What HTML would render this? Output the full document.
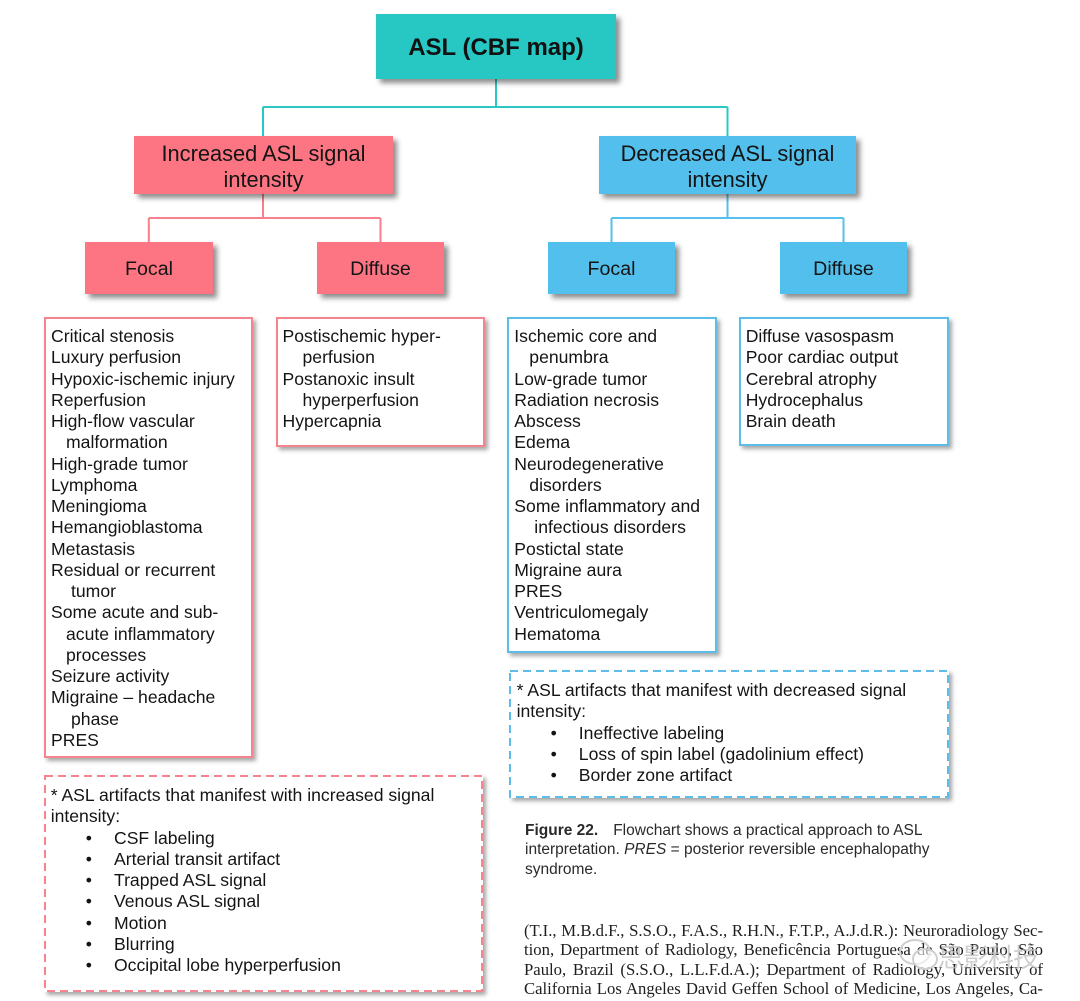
<!DOCTYPE html>
<html>
<head>
<meta charset="utf-8">
<style>
  html, body { margin:0; padding:0; background:#fff; }
  #page { position:relative; width:1080px; height:1001px; overflow:hidden; background:#fff;
    font-family:"Liberation Sans", Arial, sans-serif; color:#141414; }
  .abs { position:absolute; }
  .box { position:absolute; display:flex; align-items:center; justify-content:center; text-align:center;
    box-shadow: 4px 4px 5px rgba(0,0,0,0.45); box-sizing:border-box; }
  .teal { background:#27c7c3; }
  .pink { background:#fd7582; }
  .blue { background:#53bfec; }
  .list { position:absolute; box-sizing:border-box; background:#fff; box-shadow:3px 3px 4px rgba(0,0,0,0.35); }
  .lp { border:2px solid #f7838f; }
  .lb { border:2px solid #5cbde9; }
  .txt { position:absolute; font-size:17.6px; line-height:21.25px; white-space:nowrap; color:#141414; }
  .txt div { height:21.25px; }
  .i1 { padding-left:15px; }
  .i2 { padding-left:20px; }
  .shadowbox { position:absolute; background:#fff; box-shadow:3px 3px 4px rgba(0,0,0,0.35); }
  .bul { position:relative; }
  .bul span.b { position:absolute; }
  .cap { position:absolute; left:525px; font-size:15.5px; line-height:19.4px; color:#2a2a2a; white-space:nowrap; }
  .para { position:absolute; left:524px; width:519px; font-family:"Liberation Serif", "Times New Roman", serif;
    font-size:16.7px; line-height:19.3px; color:#1e1e1e; }
  .para div { text-align:justify; text-align-last:justify; height:19.3px; white-space:nowrap; overflow:visible; }
</style>
</head>
<body>
<div id="page">

  <!-- connectors -->
  <svg class="abs" style="left:0;top:0" width="1080" height="1001">
    <g fill="none" stroke-width="2">
      <path d="M496 79 V107 M263 107 H727.5 M263 107 V136 M727.5 107 V136" stroke="#2ac8c4"/>
      <path d="M263 194 V218 M148.8 218 H380.5 M148.8 218 V242 M380.5 218 V242" stroke="#f87f8b"/>
      <path d="M727.5 194 V218 M611.5 218 H843.5 M611.5 218 V242 M843.5 218 V242" stroke="#55c0ec"/>
    </g>
  </svg>

  <!-- top -->
  <div class="box teal" style="left:376px;top:14px;width:240px;height:65px;font-weight:bold;font-size:24px;color:#111;padding-top:2px;">ASL (CBF map)</div>

  <!-- level 2 -->
  <div class="box pink" style="left:134px;top:136px;width:259px;height:58px;font-size:21.8px;line-height:26px;padding-top:3px;">Increased ASL signal<br>intensity</div>
  <div class="box blue" style="left:599px;top:136px;width:257px;height:58px;font-size:21.8px;line-height:26px;padding-top:3px;">Decreased ASL signal<br>intensity</div>

  <!-- level 3 -->
  <div class="box pink" style="left:85px;top:242px;width:128px;height:52px;font-size:19.6px;padding-top:2px;">Focal</div>
  <div class="box pink" style="left:317px;top:242px;width:127px;height:52px;font-size:19.6px;padding-top:2px;">Diffuse</div>
  <div class="box blue" style="left:548px;top:242px;width:127px;height:52px;font-size:19.6px;padding-top:2px;">Focal</div>
  <div class="box blue" style="left:780px;top:242px;width:127px;height:52px;font-size:19.6px;padding-top:2px;">Diffuse</div>

  <!-- lists -->
  <div class="list lp" style="left:44px;top:317px;width:209px;height:441px;"></div>
  <div class="txt" style="left:51px;top:326px;">
    <div>Critical stenosis</div>
    <div>Luxury perfusion</div>
    <div>Hypoxic-ischemic injury</div>
    <div>Reperfusion</div>
    <div>High-flow vascular</div>
    <div class="i1">malformation</div>
    <div>High-grade tumor</div>
    <div>Lymphoma</div>
    <div>Meningioma</div>
    <div>Hemangioblastoma</div>
    <div>Metastasis</div>
    <div>Residual or recurrent</div>
    <div class="i2">tumor</div>
    <div>Some acute and sub-</div>
    <div class="i1">acute inflammatory</div>
    <div class="i1">processes</div>
    <div>Seizure activity</div>
    <div>Migraine – headache</div>
    <div class="i2">phase</div>
    <div>PRES</div>
  </div>

  <div class="list lp" style="left:276px;top:317px;width:209px;height:130px;"></div>
  <div class="txt" style="left:282.5px;top:326px;">
    <div>Postischemic hyper-</div>
    <div class="i2">perfusion</div>
    <div>Postanoxic insult</div>
    <div class="i2">hyperperfusion</div>
    <div>Hypercapnia</div>
  </div>

  <div class="list lb" style="left:507px;top:317px;width:210px;height:336px;"></div>
  <div class="txt" style="left:514.3px;top:326px;">
    <div>Ischemic core and</div>
    <div class="i1">penumbra</div>
    <div>Low-grade tumor</div>
    <div>Radiation necrosis</div>
    <div>Abscess</div>
    <div>Edema</div>
    <div>Neurodegenerative</div>
    <div class="i1">disorders</div>
    <div>Some inflammatory and</div>
    <div class="i2">infectious disorders</div>
    <div>Postictal state</div>
    <div>Migraine aura</div>
    <div>PRES</div>
    <div>Ventriculomegaly</div>
    <div>Hematoma</div>
  </div>

  <div class="list lb" style="left:739px;top:317px;width:210px;height:129px;"></div>
  <div class="txt" style="left:745.7px;top:326px;">
    <div>Diffuse vasospasm</div>
    <div>Poor cardiac output</div>
    <div>Cerebral atrophy</div>
    <div>Hydrocephalus</div>
    <div>Brain death</div>
  </div>

  <!-- dashed artifact boxes -->
  <div class="shadowbox" style="left:509px;top:670px;width:440px;height:128px;"></div>
  <svg class="abs" style="left:0;top:0" width="1080" height="1001">
    <rect x="510" y="671" width="438" height="126" fill="none" stroke="#5cbde9" stroke-width="2" stroke-dasharray="8 5"/>
  </svg>
  <div class="txt" style="left:516.6px;top:680px;">
    <div>* ASL artifacts that manifest with decreased signal</div>
    <div>intensity:</div>
    <div class="bul"><span class="b" style="left:34px;">•</span><span class="b" style="left:62.2px;">Ineffective labeling</span></div>
    <div class="bul"><span class="b" style="left:34px;">•</span><span class="b" style="left:62.2px;">Loss of spin label (gadolinium effect)</span></div>
    <div class="bul"><span class="b" style="left:34px;">•</span><span class="b" style="left:62.2px;">Border zone artifact</span></div>
  </div>

  <div class="shadowbox" style="left:44px;top:775px;width:439px;height:217px;"></div>
  <svg class="abs" style="left:0;top:0" width="1080" height="1001">
    <rect x="45" y="776" width="437" height="215" fill="none" stroke="#f7838f" stroke-width="2" stroke-dasharray="8 5"/>
  </svg>
  <div class="txt" style="left:50.7px;top:785px;">
    <div>* ASL artifacts that manifest with increased signal</div>
    <div>intensity:</div>
    <div class="bul"><span class="b" style="left:35px;">•</span><span class="b" style="left:63.3px;">CSF labeling</span></div>
    <div class="bul"><span class="b" style="left:35px;">•</span><span class="b" style="left:63.3px;">Arterial transit artifact</span></div>
    <div class="bul"><span class="b" style="left:35px;">•</span><span class="b" style="left:63.3px;">Trapped ASL signal</span></div>
    <div class="bul"><span class="b" style="left:35px;">•</span><span class="b" style="left:63.3px;">Venous ASL signal</span></div>
    <div class="bul"><span class="b" style="left:35px;">•</span><span class="b" style="left:63.3px;">Motion</span></div>
    <div class="bul"><span class="b" style="left:35px;">•</span><span class="b" style="left:63.3px;">Blurring</span></div>
    <div class="bul"><span class="b" style="left:35px;">•</span><span class="b" style="left:63.3px;">Occipital lobe hyperperfusion</span></div>
  </div>

  <!-- caption -->
  <div class="cap" style="top:821px;">
    <div><b>Figure 22.</b><span style="display:inline-block;width:15px;"></span>Flowchart shows a practical approach to ASL</div>
    <div>interpretation. <i>PRES</i> = posterior reversible encephalopathy</div>
    <div>syndrome.</div>
  </div>

  <!-- paragraph -->
  <div class="para" style="top:921px;">
    <div>(T.I., M.B.d.F., S.S.O., F.A.S., R.H.N., F.T.P., A.J.d.R.): Neuroradiology Sec-</div>
    <div>tion, Department of Radiology, Beneficência Portuguesa de São Paulo, São</div>
    <div>Paulo, Brazil (S.S.O., L.L.F.d.A.); Department of Radiology, University of</div>
    <div>California Los Angeles David Geffen School of Medicine, Los Angeles, Ca-</div>
    <div>lif. (K.N.); and Neuroradiology Section, Department of Radiology, Fle-</div>
  </div>

  <!-- watermark -->
  <svg class="abs" style="left:895px;top:935px" width="50" height="40">
    <ellipse cx="20" cy="17" rx="15" ry="12" fill="none" stroke="#cfcfcf" stroke-width="2"/>
    <ellipse cx="30" cy="24" rx="12" ry="10" fill="rgba(255,255,255,0.6)" stroke="#cfcfcf" stroke-width="2"/>
  </svg>
  <div class="abs" style="left:938px;top:938px;font-family:'Noto Sans CJK SC','WenQuanYi Zen Hei',sans-serif;font-size:26px;color:rgba(190,190,190,0.75);letter-spacing:-1px;">思影科技</div>

</div>
</body>
</html>
